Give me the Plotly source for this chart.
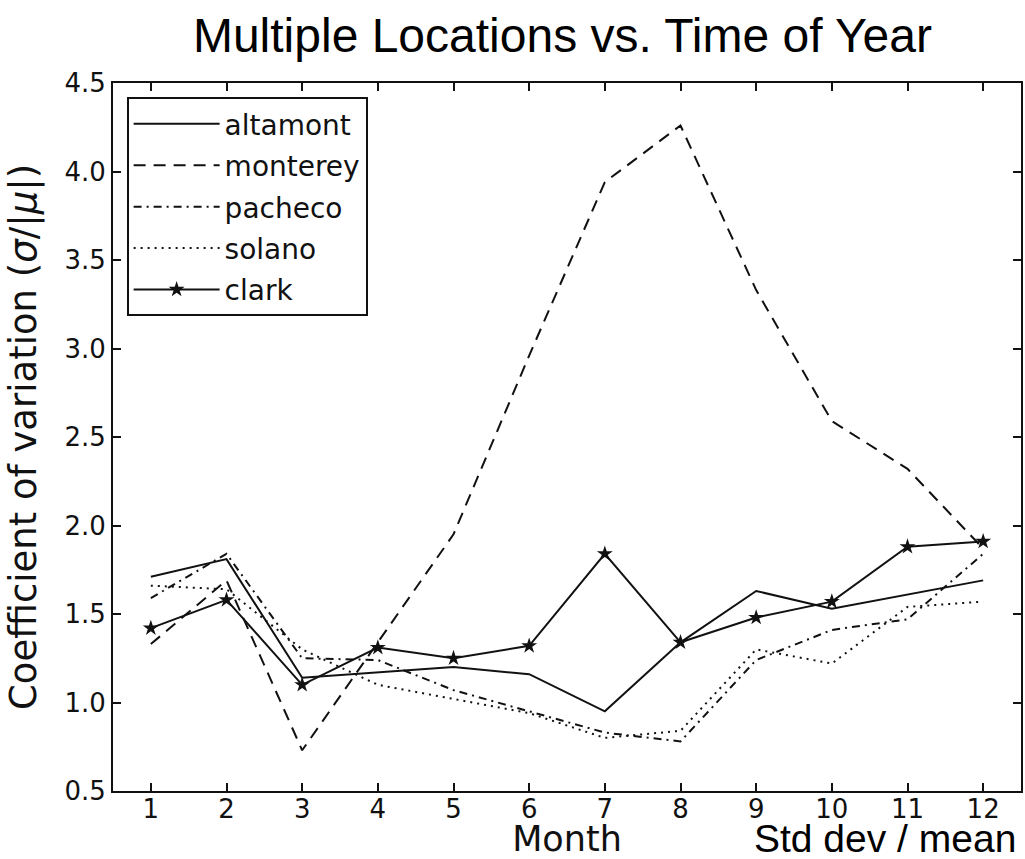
import plotly.graph_objects as go

months = [1, 2, 3, 4, 5, 6, 7, 8, 9, 10, 11, 12]
altamont = [1.71, 1.81, 1.14, 1.17, 1.20, 1.16, 0.95, 1.34, 1.63, 1.53, 1.61, 1.69]
monterey = [1.33, 1.69, 0.73, 1.34, 1.95, 2.96, 3.94, 4.26, 3.33, 2.59, 2.32, 1.87]
pacheco = [1.59, 1.84, 1.25, 1.24, 1.07, 0.95, 0.83, 0.78, 1.24, 1.41, 1.47, 1.84]
solano = [1.66, 1.64, 1.30, 1.10, 1.02, 0.94, 0.80, 0.84, 1.30, 1.22, 1.54, 1.57]
clark = [1.42, 1.58, 1.10, 1.31, 1.25, 1.32, 1.84, 1.34, 1.48, 1.57, 1.88, 1.91]

series = [
    ("altamont", altamont, "solid", None),
    ("monterey", monterey, "12px,8px", None),
    ("pacheco", pacheco, "8px,5px,2px,5px", None),
    ("solano", solano, "2px,5px", None),
    ("clark", clark, "solid", "star"),
]

ink = "#111111"
fig = go.Figure()
for name, vals, dash, sym in series:
    fig.add_trace(go.Scatter(
        x=months, y=vals, name=name, legendgroup=name,
        mode="lines+markers" if sym else "lines",
        line=dict(color=ink, width=2, dash=dash),
        marker=dict(symbol=sym or "circle", size=12, color=ink) if sym else None,
    ))

fig.update_layout(
    width=1025, height=859,
    margin=dict(l=113, r=2, t=83, b=68),
    paper_bgcolor="white", plot_bgcolor="white",
    font=dict(family="DejaVu Sans", color="#111111"),
    title=dict(text="Multiple Locations vs. Time of Year",
               font=dict(family="Liberation Sans", size=48, color="black"),
               x=0.495, xref="paper", xanchor="center",
               y=1 - 35 / 859, yref="container", yanchor="middle"),
    showlegend=True,
    legend=dict(x=0.015, y=0.980, xanchor="left", yanchor="top",
                bgcolor="white", bordercolor="#111111", borderwidth=2,
                font=dict(family="DejaVu Sans", size=28, color="#111111"),
                tracegroupgap=2, itemwidth=86),
    annotations=[dict(text="Std dev / mean", xref="paper", yref="paper",
                      x=(887 - 113) / 910, y=(791 - 838) / 708,
                      xanchor="center", yanchor="middle", showarrow=False,
                      font=dict(family="Liberation Sans", size=39, color="black"))],
)

fig.update_xaxes(range=[0.5, 12.5], tickmode="array", tickvals=months,
                 ticktext=[str(m) for m in months],
                 ticks="inside", ticklen=8, tickwidth=1.5, tickcolor="#111111",
                 showline=True, linecolor="#111111", linewidth=2, mirror="ticks",
                 showgrid=False, zeroline=False, ticklabelstandoff=-6,
                 tickfont=dict(family="DejaVu Sans", size=26, color="#111111"),
                 title=dict(text="Month", standoff=6,
                            font=dict(family="DejaVu Sans", size=35, color="#111111")))
fig.update_yaxes(range=[0.5, 4.5], tickmode="linear", tick0=0.5, dtick=0.5,
                 tickformat=".1f",
                 ticks="inside", ticklen=8, tickwidth=1.5, tickcolor="#111111",
                 showline=True, linecolor="#111111", linewidth=2, mirror="ticks",
                 showgrid=False, zeroline=False,
                 tickfont=dict(family="DejaVu Sans", size=26, color="#111111"),
                 title=dict(text="Coefficient of variation (<i>σ</i>/|<i>μ</i>|)", standoff=16,
                            font=dict(family="DejaVu Sans", size=37, color="#111111")))

fig.write_html("out.html")
